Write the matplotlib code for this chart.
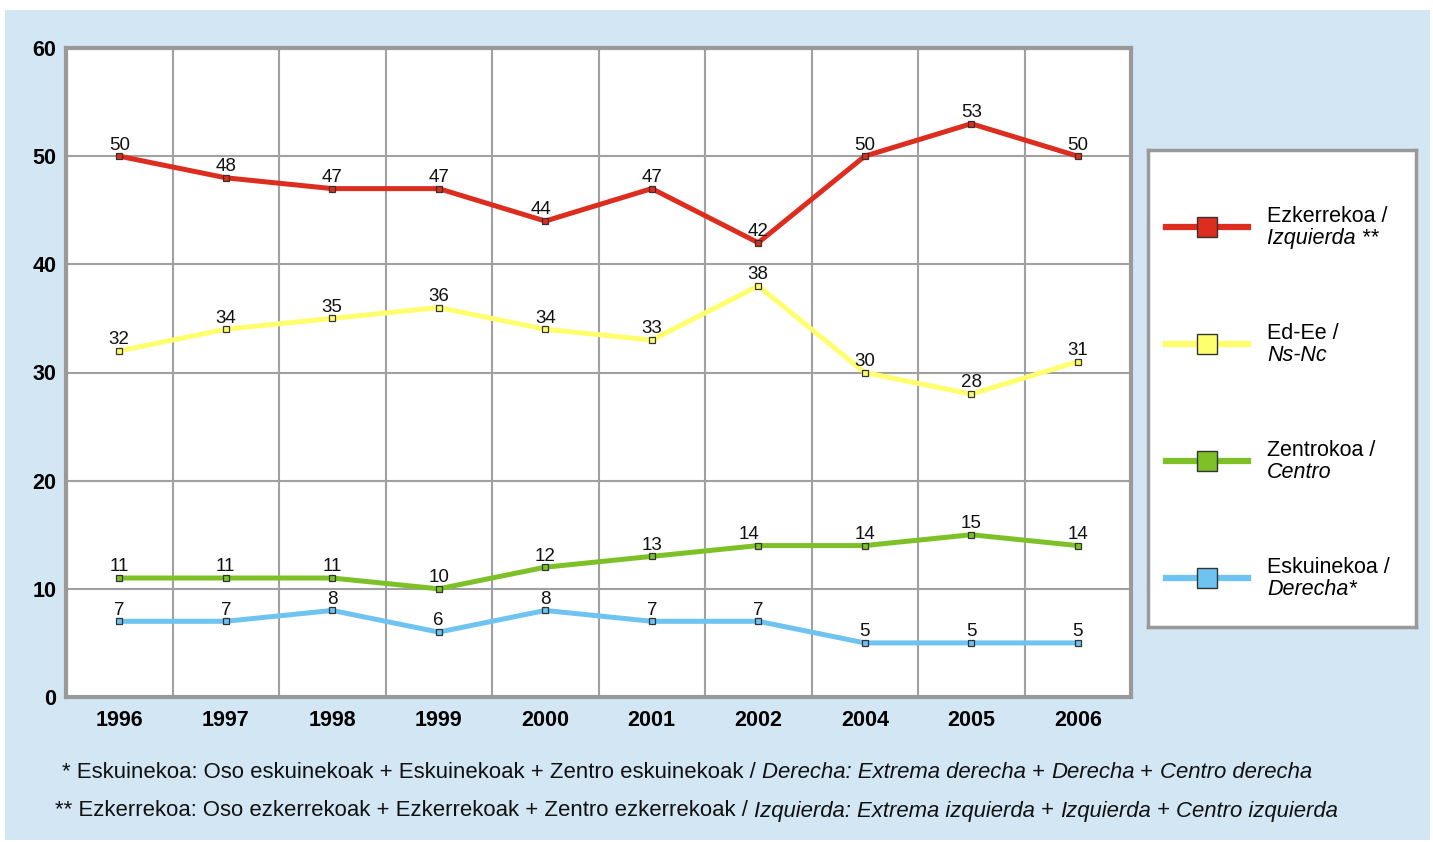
import matplotlib
matplotlib.use("Agg")
import matplotlib.pyplot as plt
from matplotlib.patches import Rectangle
from matplotlib.lines import Line2D

plt.rcParams['font.family'] = ['Liberation Sans', 'DejaVu Sans']

years = ['1996', '1997', '1998', '1999', '2000', '2001', '2002', '2004', '2005', '2006']
izquierda = [50, 48, 47, 47, 44, 47, 42, 50, 53, 50]
nsnc = [32, 34, 35, 36, 34, 33, 38, 30, 28, 31]
centro = [11, 11, 11, 10, 12, 13, 14, 14, 15, 14]
derecha = [7, 7, 8, 6, 8, 7, 7, 5, 5, 5]

series = [
    ("Ezkerrekoa /", "Izquierda **", izquierda, '#DC2D1E'),
    ("Ed-Ee /", "Ns-Nc", nsnc, '#FFFF6E'),
    ("Zentrokoa /", "Centro", centro, '#7DC126'),
    ("Eskuinekoa /", "Derecha*", derecha, '#6EC3F0'),
]

W, H = 1433, 842
fig = plt.figure(figsize=(W / 100, H / 100), dpi=100, facecolor='white')
fig.patches.append(Rectangle((5 / W, 2 / H), 1425 / W, 830 / H, transform=fig.transFigure,
                             facecolor='#D2E6F4', edgecolor='none', zorder=-10))

ax = fig.add_axes([66 / W, 145 / H, 1065 / W, 649 / H])
ax.set_facecolor('white')
x = list(range(len(years)))
ax.set_xlim(-0.5, len(years) - 0.5)
ax.set_ylim(0, 60)
ax.set_yticks(range(0, 61, 10))
ax.set_xticks(x)
ax.set_xticklabels(years, fontsize=15.5, fontweight='bold')
ax.set_yticklabels([str(v) for v in range(0, 61, 10)], fontsize=15.5, fontweight='bold')
ax.tick_params(axis='both', length=0)
ax.tick_params(axis='x', pad=9)
ax.tick_params(axis='y', pad=7)
for v in range(10, 60, 10):
    ax.axhline(v, color='#A0A0A0', lw=1.5, zorder=1)
for i in range(len(years) - 1):
    ax.axvline(i + 0.5, color='#A0A0A0', lw=1.5, zorder=1)
for s in ax.spines.values():
    s.set_color('#999999')
    s.set_linewidth(3)

label_dx = {(2, 6): -7, (0, 4): -3}
for si, (l1, l2, vals, col) in enumerate(series):
    ax.plot(x, vals, color=col, lw=3.6, zorder=3, solid_joinstyle='miter')
    ax.plot(x, vals, ls='none', marker='s', ms=5, mfc=col, mec='#333333', mew=0.9, zorder=4)
    for i, v in enumerate(vals):
        dx = label_dx.get((si, i), 0)
        ax.annotate(str(v), (i, v), xytext=(dx, 4.8), textcoords='offset points',
                    ha='center', va='baseline', fontsize=13.5, color='#111111', zorder=5)

# legend box
lax = fig.add_axes([1148 / W, 215 / H, 268 / W, 477 / H])
lax.set_xlim(0, 1)
lax.set_ylim(0, 1)
lax.set_xticks([])
lax.set_yticks([])
lax.set_facecolor('white')
for s in lax.spines.values():
    s.set_color('#999999')
    s.set_linewidth(2.5)
ys = [0.8386, 0.5933, 0.348, 0.1027]
for (l1, l2, vals, col), yy in zip(series, ys):
    lax.add_line(Line2D([0.067, 0.373], [yy, yy], color=col, lw=4.5))
    lax.add_line(Line2D([0.22], [yy], marker='s', ms=15, mfc=col, mec='#333333', mew=1))
    lax.text(0.444, yy + 0.0, l1, fontsize=15.5, va='bottom', ha='left')
    lax.text(0.444, yy - 0.002, l2, fontsize=15.5, va='top', ha='left', style='italic')

# footnotes with mixed styles
fig.canvas.draw()
renderer = fig.canvas.get_renderer()


def mixed(x0, yc, parts):
    xp = x0
    for txt, it in parts:
        t = fig.text(xp / W, 1 - yc / H, txt, fontsize=15.95, va='center', ha='left',
                     style='italic' if it else 'normal', color='#111111')
        bb = t.get_window_extent(renderer)
        xp += bb.width


mixed(62, 772, [("* Eskuinekoa: Oso eskuinekoak + Eskuinekoak + Zentro eskuinekoak / ", False),
                ("Derecha: Extrema derecha", True), (" + ", False), ("Derecha", True),
                (" + ", False), ("Centro derecha", True)])
mixed(55, 811, [("** Ezkerrekoa: Oso ezkerrekoak + Ezkerrekoak + Zentro ezkerrekoak / ", False),
                ("Izquierda: Extrema izquierda", True), (" + ", False), ("Izquierda", True),
                (" + ", False), ("Centro izquierda", True)])

fig.savefig('out.png', dpi=100, facecolor='white')
